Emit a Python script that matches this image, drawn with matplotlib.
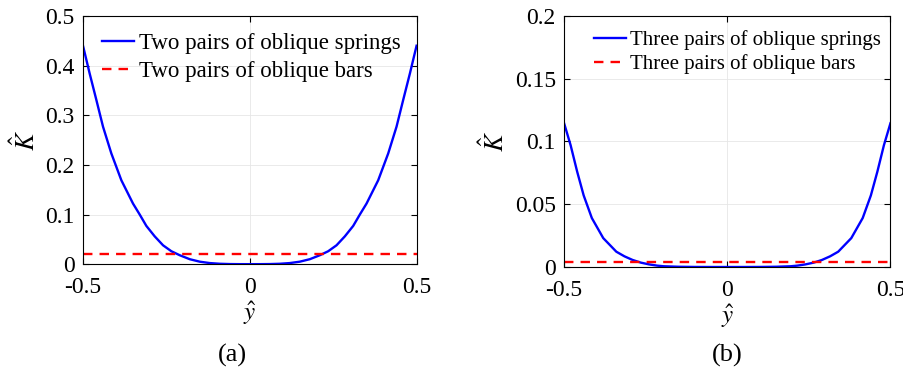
import matplotlib
matplotlib.use('Agg')
import matplotlib.pyplot as plt
import numpy as np

plt.rcParams['font.family'] = ['Liberation Serif', 'DejaVu Serif']
plt.rcParams['mathtext.fontset'] = 'stix'

# (a) two pairs - left half, curve is symmetric
y_half_a = [-0.5, -0.48, -0.46, -0.44, -0.415, -0.385, -0.35, -0.33, -0.31, -0.285, -0.26,
            -0.235, -0.21, -0.18, -0.15, -0.12, -0.09, -0.06, -0.03]
k_half_a = [0.44, 0.384, 0.331, 0.277, 0.223, 0.169, 0.122, 0.1, 0.077, 0.056, 0.038,
            0.026, 0.018, 0.010, 0.005, 0.0022, 0.0008, 0.0002, 0.00002]
k_bars_a = 0.02

# (b) three pairs
y_half_b = [-0.5, -0.48, -0.46, -0.44, -0.415, -0.38, -0.34, -0.315, -0.29, -0.265, -0.24,
            -0.215, -0.195, -0.15, -0.1, -0.05]
k_half_b = [0.1145, 0.097, 0.076, 0.057, 0.039, 0.023, 0.0122, 0.0085, 0.0056, 0.0035, 0.0021,
            0.0011, 0.0006, 0.0002, 0.00004, 0.0]
k_bars_b = 0.0042


def mirror(xs, ks):
    xs = np.array(xs)
    ks = np.array(ks)
    return np.concatenate([xs, [0.0], -xs[::-1]]), np.concatenate([ks, [0.0], ks[::-1]])


fig = plt.figure(figsize=(9.04, 3.79), dpi=100)
ax1 = fig.add_axes([0.0918, 0.303, 0.369, 0.655])
ax2 = fig.add_axes([0.624, 0.2955, 0.361, 0.6625])


def style(ax, yticks, ylabels, ymax):
    ax.set_xlim(-0.5, 0.5)
    ax.set_ylim(0, ymax)
    ax.set_xticks([-0.5, 0, 0.5])
    ax.set_xticklabels(['-0.5', '0', '0.5'])
    ax.set_yticks(yticks)
    ax.set_yticklabels(ylabels)
    ax.tick_params(direction='in', top=True, right=True, labelsize=17, length=4, width=0.8)
    ax.tick_params(axis='x', pad=9)
    ax.tick_params(axis='y', pad=6)
    ax.grid(True, color='#e6e6e6', linewidth=0.6)
    ax.set_axisbelow(True)
    for s in ax.spines.values():
        s.set_linewidth(0.8)
    ax.set_xlabel(r'$\hat{y}$', fontsize=18, labelpad=1)
    ax.set_ylabel(r'$\hat{K}$', fontsize=19, labelpad=4)


xa, ka = mirror(y_half_a, k_half_a)
ax1.plot(xa, ka, color='blue', lw=1.7, label='Two pairs of oblique springs')
ax1.axhline(k_bars_a, color='red', lw=1.7, ls=(0, (4, 3)), label='Two pairs of oblique bars')
style(ax1, [0, 0.1, 0.2, 0.3, 0.4, 0.5], ['0', '0.1', '0.2', '0.3', '0.4', '0.5'], 0.5)
ax1.legend(loc='upper left', bbox_to_anchor=(0.016, 0.985), frameon=False, fontsize=16.5,
           handlelength=1.4, handletextpad=0.2, borderaxespad=0.2, labelspacing=0.3)

xb, kb = mirror(y_half_b, k_half_b)
ax2.plot(xb, kb, color='blue', lw=1.7, label='Three pairs of oblique springs')
ax2.axhline(k_bars_b, color='red', lw=1.7, ls=(0, (4, 3)), label='Three pairs of oblique bars')
style(ax2, [0, 0.05, 0.1, 0.15, 0.2], ['0', '0.05', '0.1', '0.15', '0.2'], 0.2)
ax2.legend(loc='upper left', bbox_to_anchor=(0.052, 0.992), frameon=False, fontsize=15,
           handlelength=1.55, handletextpad=0.2, borderaxespad=0.2, labelspacing=0.2)

fig.text(0.257, 0.045, '(a)', fontsize=19, ha='center')
fig.text(0.805, 0.045, '(b)', fontsize=19, ha='center')

fig.savefig('out.png', dpi=100)
